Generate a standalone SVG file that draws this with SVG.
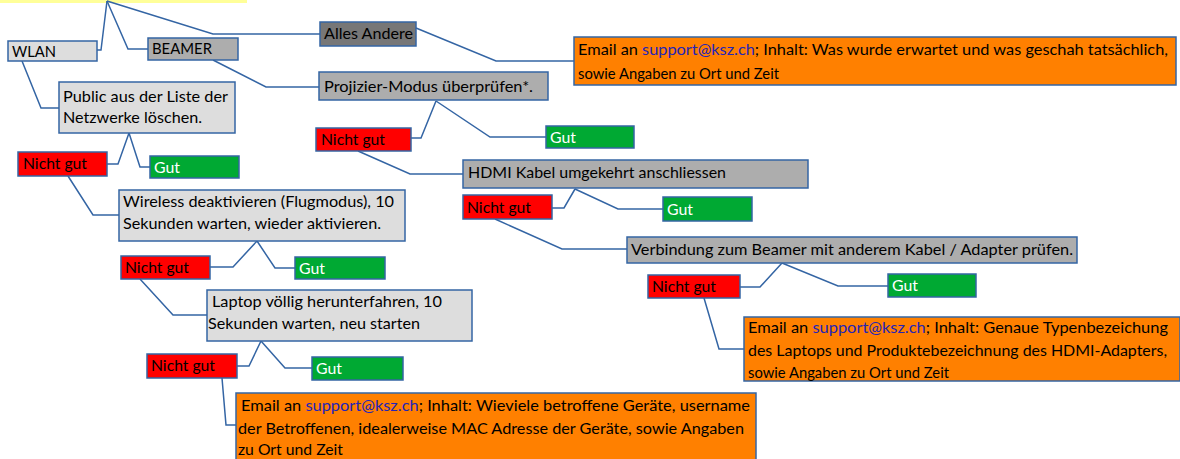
<svg xmlns="http://www.w3.org/2000/svg" width="1180" height="459" viewBox="0 0 1180 459">
<style>
text{font-family:Lato,"Liberation Sans",sans-serif;font-size:16px;fill:#000}
.box{stroke:#3465a4;stroke-width:1.5}
.lg{fill:#dddddd}.mg{fill:#adadad}.dg{fill:#777777}
.red{fill:#ff0000}.grn{fill:#00a933}.org{fill:#ff8000}
.w{fill:#ffffff}
.lnk{fill:#2424b8}
#connectors polyline{fill:none;stroke:#3465a4;stroke-width:1.5}
</style>
<rect x="0" y="0" width="247" height="3" fill="#ffff99"/>
<g id="connectors">
<polyline points="107,1 101,50 97,50"/>
<polyline points="107,1 128,49 148,49"/>
<polyline points="107,1 213,34 320,34"/>
<polyline points="416,28 496,61 574,61"/>
<polyline points="213,60 266,87 319,87"/>
<polyline points="436,101 421,138 411,138"/>
<polyline points="436,101 490,137 546,137"/>
<polyline points="358,151 410,174 463,174"/>
<polyline points="575,189 564,208 552,208"/>
<polyline points="575,189 618,209 663,209"/>
<polyline points="495,219 562,249 627,249"/>
<polyline points="782,263 760,287 740,287"/>
<polyline points="782,263 838,286 888,286"/>
<polyline points="704,298 719,349 744,349"/>
<polyline points="22,61 41,108 59,108"/>
<polyline points="129,133 118,164 107,164"/>
<polyline points="129,133 140,167 150,167"/>
<polyline points="68,176 93,215 119,215"/>
<polyline points="257,241 233,267 210,267"/>
<polyline points="257,241 275,268 295,268"/>
<polyline points="140,279 173,315 207,315"/>
<polyline points="261,341 249,366 237,366"/>
<polyline points="261,341 285,368 312,368"/>
<polyline points="222,378 226,425 236,425"/>
</g>
<g id="wlan"><rect class="box lg" x="8" y="41" width="89" height="20"/><text x="12" y="57" textLength="44" lengthAdjust="spacingAndGlyphs">WLAN</text></g>
<g id="beamer"><rect class="box mg" x="148" y="38" width="90" height="22"/><text x="152" y="54" textLength="60" lengthAdjust="spacingAndGlyphs">BEAMER</text></g>
<g id="alles-andere"><rect class="box dg" x="320" y="22" width="96" height="24"/><text x="324" y="39" textLength="89" lengthAdjust="spacingAndGlyphs">Alles Andere</text></g>
<g id="email-1"><rect class="box org" x="574" y="37" width="602" height="48"/>
<text x="578" y="55" textLength="590" lengthAdjust="spacingAndGlyphs">Email an <tspan class="lnk">support@ksz.ch</tspan>; Inhalt: Was wurde erwartet und was geschah tatsächlich,</text>
<text x="578" y="79" textLength="201" lengthAdjust="spacingAndGlyphs">sowie Angaben zu Ort und Zeit</text></g>
<g id="projizier"><rect class="box mg" x="319" y="72" width="229" height="28"/><text x="324" y="92" textLength="209" lengthAdjust="spacingAndGlyphs">Projizier-Modus überprüfen*.</text></g>
<g id="b-nichtgut-1"><rect class="box red" x="316" y="128" width="95" height="23"/><text x="321" y="145" textLength="64" lengthAdjust="spacingAndGlyphs">Nicht gut</text></g>
<g id="b-gut-1"><rect class="box grn" x="546" y="126" width="88" height="22"/><text class="w" x="550" y="143" textLength="26" lengthAdjust="spacingAndGlyphs">Gut</text></g>
<g id="hdmi"><rect class="box mg" x="463" y="160" width="345" height="28"/><text x="468" y="178" textLength="258" lengthAdjust="spacingAndGlyphs">HDMI Kabel umgekehrt anschliessen</text></g>
<g id="b-nichtgut-2"><rect class="box red" x="463" y="195" width="89" height="24"/><text x="467" y="213" textLength="64" lengthAdjust="spacingAndGlyphs">Nicht gut</text></g>
<g id="b-gut-2"><rect class="box grn" x="663" y="197" width="89" height="24"/><text class="w" x="667" y="215" textLength="26" lengthAdjust="spacingAndGlyphs">Gut</text></g>
<g id="verbindung"><rect class="box mg" x="627" y="237" width="450" height="26"/><text x="631" y="255" textLength="442" lengthAdjust="spacingAndGlyphs">Verbindung zum Beamer mit anderem Kabel / Adapter prüfen.</text></g>
<g id="b-nichtgut-3"><rect class="box red" x="648" y="275" width="92" height="23"/><text x="652" y="292" textLength="64" lengthAdjust="spacingAndGlyphs">Nicht gut</text></g>
<g id="b-gut-3"><rect class="box grn" x="888" y="274" width="88" height="23"/><text class="w" x="892" y="291" textLength="26" lengthAdjust="spacingAndGlyphs">Gut</text></g>
<g id="email-2"><rect class="box org" x="744" y="317" width="436" height="64"/>
<text x="748" y="333" textLength="420" lengthAdjust="spacingAndGlyphs">Email an <tspan class="lnk">support@ksz.ch</tspan>; Inhalt: Genaue Typenbezeichung</text>
<text x="748" y="356" textLength="419" lengthAdjust="spacingAndGlyphs">des Laptops und Produktebezeichnung des HDMI-Adapters,</text>
<text x="748" y="378" textLength="201" lengthAdjust="spacingAndGlyphs">sowie Angaben zu Ort und Zeit</text></g>
<g id="public"><rect class="box lg" x="59" y="82" width="176" height="51"/>
<text x="63" y="102" textLength="165" lengthAdjust="spacingAndGlyphs">Public aus der Liste der</text>
<text x="63" y="123" textLength="139" lengthAdjust="spacingAndGlyphs">Netzwerke löschen.</text></g>
<g id="w-nichtgut-1"><rect class="box red" x="18" y="152" width="89" height="24"/><text x="23" y="169" textLength="64" lengthAdjust="spacingAndGlyphs">Nicht gut</text></g>
<g id="w-gut-1"><rect class="box grn" x="150" y="156" width="89" height="22"/><text class="w" x="154" y="173" textLength="26" lengthAdjust="spacingAndGlyphs">Gut</text></g>
<g id="wireless"><rect class="box lg" x="119" y="190" width="286" height="51"/>
<text x="123" y="207" textLength="271" lengthAdjust="spacingAndGlyphs">Wireless deaktivieren (Flugmodus), 10</text>
<text x="123" y="229" textLength="258" lengthAdjust="spacingAndGlyphs">Sekunden warten, wieder aktivieren.</text></g>
<g id="w-nichtgut-2"><rect class="box red" x="121" y="256" width="89" height="23"/><text x="125" y="273" textLength="64" lengthAdjust="spacingAndGlyphs">Nicht gut</text></g>
<g id="w-gut-2"><rect class="box grn" x="295" y="257" width="90" height="22"/><text class="w" x="299" y="274" textLength="26" lengthAdjust="spacingAndGlyphs">Gut</text></g>
<g id="laptop"><rect class="box lg" x="207" y="290" width="265" height="51"/>
<text x="212" y="307" textLength="230" lengthAdjust="spacingAndGlyphs">Laptop völlig herunterfahren, 10</text>
<text x="208" y="329" textLength="212" lengthAdjust="spacingAndGlyphs">Sekunden warten, neu starten</text></g>
<g id="w-nichtgut-3"><rect class="box red" x="147" y="354" width="90" height="24"/><text x="151" y="371" textLength="64" lengthAdjust="spacingAndGlyphs">Nicht gut</text></g>
<g id="w-gut-3"><rect class="box grn" x="312" y="357" width="91" height="23"/><text class="w" x="316" y="374" textLength="26" lengthAdjust="spacingAndGlyphs">Gut</text></g>
<g id="email-3"><rect class="box org" x="236" y="393" width="520" height="70"/>
<text x="241" y="411" textLength="509" lengthAdjust="spacingAndGlyphs">Email an <tspan class="lnk">support@ksz.ch</tspan>; Inhalt: Wieviele betroffene Geräte, username</text>
<text x="238" y="434" textLength="506" lengthAdjust="spacingAndGlyphs">der Betroffenen, idealerweise MAC Adresse der Geräte, sowie Angaben</text>
<text x="238" y="455" textLength="105" lengthAdjust="spacingAndGlyphs">zu Ort und Zeit</text></g>
</svg>
